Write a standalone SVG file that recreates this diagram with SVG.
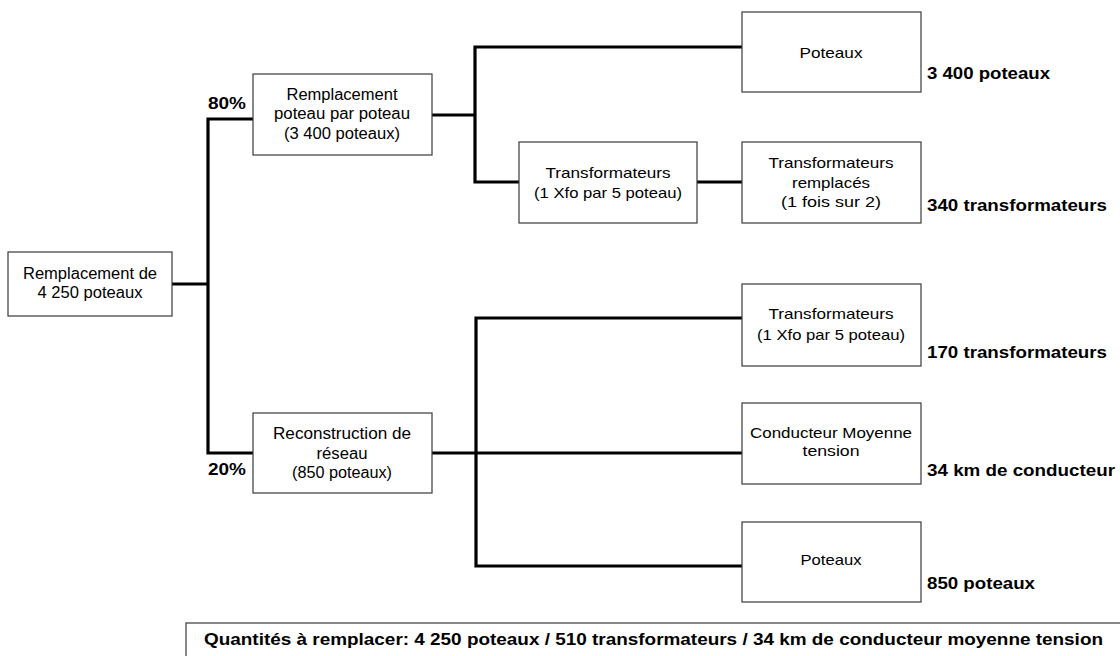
<svg xmlns="http://www.w3.org/2000/svg" width="1120" height="656" viewBox="0 0 1120 656">
<style>
.box{fill:#fff;stroke:#3a3a3a;stroke-width:1.2}
.t{font-family:"Liberation Sans",Arial,sans-serif;font-size:16px;fill:#000;text-anchor:middle}
.s{font-family:"Liberation Sans",Arial,sans-serif;font-size:15px;fill:#000;text-anchor:middle}
.b{font-family:"Liberation Sans",Arial,sans-serif;font-size:16px;font-weight:bold;fill:#000}
.c{fill:none;stroke:#000;stroke-width:3.2;stroke-linecap:square}
</style>
<rect width="1120" height="656" fill="#fff"/>
<g id="connectors">
<path class="c" d="M172 284H208M208 119V453M208 119H252M208 453H252"/>
<path class="c" d="M433 115H475M475 47V182M475 47H741M475 182H518M698 182H741"/>
<path class="c" d="M431 453H741M476 318V566M476 318H741M476 566H741"/>
</g>
<g id="root"><rect class="box" x="8" y="252" width="164" height="64"/>
<text class="t" x="90" y="279" textLength="134" lengthAdjust="spacingAndGlyphs">Remplacement de</text>
<text class="t" x="90" y="298" textLength="105" lengthAdjust="spacingAndGlyphs">4 250 poteaux</text></g>
<g id="pct80"><text class="b" x="208" y="109" textLength="38" lengthAdjust="spacingAndGlyphs">80%</text></g>
<g id="pct20"><text class="b" x="208" y="475" textLength="38" lengthAdjust="spacingAndGlyphs">20%</text></g>
<g id="remplacement"><rect class="box" x="253" y="74" width="179" height="81"/>
<text class="t" x="342" y="100" textLength="111" lengthAdjust="spacingAndGlyphs">Remplacement</text>
<text class="t" x="342" y="119" textLength="136" lengthAdjust="spacingAndGlyphs">poteau par poteau</text>
<text class="t" x="342" y="139" textLength="116" lengthAdjust="spacingAndGlyphs">(3 400 poteaux)</text></g>
<g id="reconstruction"><rect class="box" x="253" y="413" width="179" height="80"/>
<text class="t" x="342" y="439" textLength="138" lengthAdjust="spacingAndGlyphs">Reconstruction de</text>
<text class="t" x="342" y="459" textLength="51" lengthAdjust="spacingAndGlyphs">réseau</text>
<text class="t" x="342" y="478" textLength="100" lengthAdjust="spacingAndGlyphs">(850 poteaux)</text></g>
<g id="poteaux1"><rect class="box" x="742" y="12" width="179" height="80"/>
<text class="s" x="831" y="58" textLength="63" lengthAdjust="spacingAndGlyphs">Poteaux</text></g>
<g id="label1"><text class="b" x="927" y="79" textLength="123" lengthAdjust="spacingAndGlyphs">3 400 poteaux</text></g>
<g id="transfo1"><rect class="box" x="519" y="142" width="178" height="81"/>
<text class="s" x="608" y="178" textLength="125" lengthAdjust="spacingAndGlyphs">Transformateurs</text>
<text class="s" x="608" y="198" textLength="148" lengthAdjust="spacingAndGlyphs">(1 Xfo par 5 poteau)</text></g>
<g id="transfo-remplaces"><rect class="box" x="742" y="142" width="179" height="81"/>
<text class="s" x="831" y="168" textLength="125" lengthAdjust="spacingAndGlyphs">Transformateurs</text>
<text class="s" x="831" y="188" textLength="78" lengthAdjust="spacingAndGlyphs">remplacés</text>
<text class="s" x="831" y="207" textLength="100" lengthAdjust="spacingAndGlyphs">(1 fois sur 2)</text></g>
<g id="label2"><text class="b" x="927" y="211" textLength="180" lengthAdjust="spacingAndGlyphs">340 transformateurs</text></g>
<g id="transfo2"><rect class="box" x="742" y="284" width="179" height="82"/>
<text class="s" x="831" y="319" textLength="125" lengthAdjust="spacingAndGlyphs">Transformateurs</text>
<text class="s" x="831" y="340" textLength="148" lengthAdjust="spacingAndGlyphs">(1 Xfo par 5 poteau)</text></g>
<g id="label3"><text class="b" x="927" y="358" textLength="180" lengthAdjust="spacingAndGlyphs">170 transformateurs</text></g>
<g id="conducteur"><rect class="box" x="742" y="403" width="179" height="81"/>
<text class="s" x="831" y="438" textLength="162" lengthAdjust="spacingAndGlyphs">Conducteur Moyenne</text>
<text class="s" x="831" y="456" textLength="57" lengthAdjust="spacingAndGlyphs">tension</text></g>
<g id="label4"><text class="b" x="927" y="476" textLength="188" lengthAdjust="spacingAndGlyphs">34 km de conducteur</text></g>
<g id="poteaux2"><rect class="box" x="742" y="522" width="179" height="80"/>
<text class="s" x="831" y="565" textLength="61" lengthAdjust="spacingAndGlyphs">Poteaux</text></g>
<g id="label5"><text class="b" x="927" y="589" textLength="108" lengthAdjust="spacingAndGlyphs">850 poteaux</text></g>
<g id="summary"><rect class="box" x="186" y="623" width="950" height="45"/>
<text class="b" x="204" y="645" textLength="899" lengthAdjust="spacingAndGlyphs">Quantités à remplacer: 4 250 poteaux / 510 transformateurs /  34 km de conducteur moyenne tension</text></g>
</svg>
